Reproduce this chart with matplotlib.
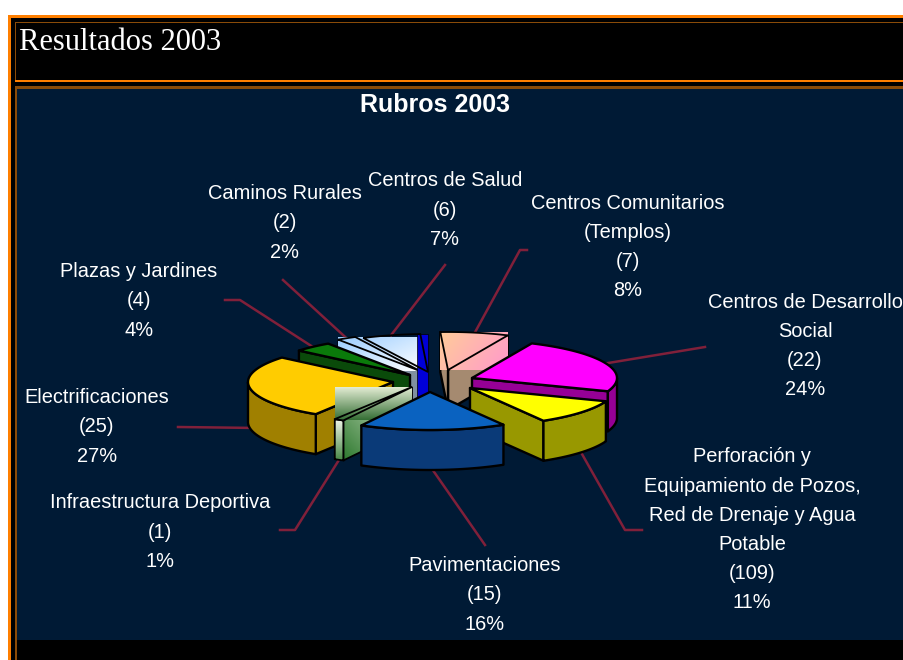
import numpy as np
import matplotlib
matplotlib.use('Agg')
import matplotlib.pyplot as plt
from matplotlib.colors import to_rgb
from matplotlib.patches import Polygon, Rectangle

# Chart data
labels = ['Electrificaciones\n(25)\n27%',
          'Infraestructura Deportiva\n(1)\n1%',
          'Pavimentaciones\n(15)\n16%',
          'Perforación y\nEquipamiento de Pozos,\nRed de Drenaje y Agua\nPotable\n(109)\n11%',
          'Centros de Desarrollo\nSocial\n(22)\n24%',
          'Centros Comunitarios\n(Templos)\n(7)\n8%',
          'Centros de Salud\n(6)\n7%',
          'Caminos Rurales\n(2)\n2%',
          'Plazas y Jardines\n(4)\n4%']
values = [25, 1, 15, 10, 22, 7, 6, 2, 4]

top_colors = ['#ffcc00', '#88b070', '#0a62c0', '#ffff00', '#ff00ff', '#ffc8a0', '#c8e0ff', '#a8d0ff', '#0a7a0a']
wall_colors = ['#a08000', '#6fa060', '#0a3a78', '#989800', '#960096', '#a58a70', '#0000d8', '#8090a0', '#0a4a0a']

# Layout, all in pixels of the original picture
apex_x = np.array([393, 412, 430, 470, 472, 448, 428, 420, 410])
apex_y = np.array([382, 387, 392, 388, 378, 370, 372, 371, 375])
label_pos = [(97, 427), (160, 532), (485, 595), (752, 530), (805, 346),
             (628, 247), (445, 210), (285, 223), (139, 301)]
leader_ends = [[(178, 427)],
               [(295, 530), (280, 530)],
               [(485, 545)],
               [(625, 530), (642, 530)],
               [(705, 347)],
               [(520, 250), (527, 250)],
               [(445, 265)],
               [(283, 280)],
               [(240, 300), (225, 300)]]
rx, ry, depth = 145, 38, 40
start_angle = 140
draw_order = [5, 7, 6, 8, 4, 0, 3, 1, 2]
line_color = '#80203a'

fig = plt.figure(figsize=(9.04, 6.6), dpi=100, facecolor='white')
ax = fig.add_axes([0, 0, 1, 1])
ax.set_xlim(0, 904)
ax.set_ylim(660, 0)
ax.axis('off')


def box(x0, y0, x1, y1, color, z=1):
    ax.add_patch(Rectangle((x0, y0), x1 - x0, y1 - y0, fc=color, ec='none', zorder=z))


# Page frame
box(8, 15, 904, 660, '#ff7f00')
box(11, 18, 904, 660, '#000000')
box(15, 22, 904, 82, '#8a4b08')
box(16, 23, 904, 80, '#000000')
box(15, 80, 904, 82, '#ff7f00')
box(15, 86, 904, 660, '#8a4b08')
box(17, 89, 904, 640, '#001a35')
box(17, 640, 904, 660, '#000000')

ax.text(19, 43, 'Resultados 2003', color='white', family='Liberation Serif',
        fontsize=22, va='center', ha='left', zorder=2)
ax.text(435, 105, 'Rubros 2003', color='white', family='Liberation Sans',
        fontsize=18, weight='bold', va='center', ha='center', zorder=2)

# Slice angles, counter clockwise from the start angle
shares = np.array(values) / sum(values) * 360
a0 = start_angle + np.concatenate(([0], np.cumsum(shares)[:-1]))
a1 = a0 + shares
mids = (a0 + a1) / 2

z = 3


def next_z():
    global z
    z += 1
    return z


def grad_fill(verts, c0, c1, direction=(0, 1)):
    # gradient image clipped to a polygon
    verts = np.array(verts)
    x0, y0 = verts.min(axis=0)
    x1, y1 = verts.max(axis=0)
    xx, yy = np.meshgrid(np.linspace(0, 1, 60), np.linspace(0, 1, 60))
    t = xx * direction[0] + yy * direction[1]
    t = (t - t.min()) / (t.max() - t.min())
    arr = np.array(to_rgb(c0)) * (1 - t[..., None]) + np.array(to_rgb(c1)) * t[..., None]
    im = ax.imshow(arr, extent=(x0, x1, y1, y0), aspect='auto', zorder=next_z(), interpolation='bilinear')
    im.set_clip_path(Polygon(verts, closed=True, transform=ax.transData))


def poly(verts, color, lw=1.7):
    ax.add_patch(Polygon(verts, closed=True, fc=color, ec='black', lw=lw, zorder=next_z(), joinstyle='round'))


def outline(verts, lw=1.3, color='black'):
    ax.add_patch(Polygon(verts, closed=True, fc='none', ec=color, lw=lw, zorder=next_z()))


def arc(i, lo, hi):
    t = np.radians(np.linspace(lo, hi, 50))
    return np.column_stack((apex_x[i] + rx * np.cos(t), apex_y[i] - ry * np.sin(t)))


def side(i, angle):
    p = arc(i, angle, angle)[0]
    ap = (apex_x[i], apex_y[i])
    return [ap, tuple(p), (p[0], p[1] + depth), (ap[0], ap[1] + depth)]


def front_wall(i):
    # outer wall only where the rim faces the viewer
    t = np.linspace(a0[i], a1[i], 120)
    t = t[np.sin(np.radians(t)) < 0]
    if len(t) < 2:
        return None
    rim = arc(i, t[0], t[-1])
    return np.vstack((rim, (rim + [0, depth])[::-1]))


def bbox_of(top):
    x0, y0 = top.min(axis=0)
    x1, y1 = top.max(axis=0)
    return [(x0, y0), (x1, y0), (x1, y1), (x0, y1)]


for i in draw_order:
    name = labels[i].split('\n')[0]
    top = np.vstack(([(apex_x[i], apex_y[i])], arc(i, a0[i], a1[i])))
    walls = []
    if np.sin(np.radians(a0[i] - 90)) < 0:
        walls.append(side(i, a0[i]))
    if np.sin(np.radians(a1[i] + 90)) < 0:
        walls.append(side(i, a1[i]))
    outer = front_wall(i)

    if name == 'Infraestructura Deportiva':
        for w in walls:
            grad_fill(w, '#e4eed8', '#2f7a30', direction=(-1, 1))
            outline(w)
        grad_fill(outer, '#f4f8ec', '#4a8a48', direction=(0, 1))
        outline(outer)
        grad_fill(bbox_of(top), '#e8f0d8', '#356f35')
        outline(top)
    elif name == 'Caminos Rurales':
        for w in walls:
            poly(w, wall_colors[i], lw=1)
        grad_fill(bbox_of(top), '#99ccff', '#ffffff', direction=(1, 1))
        outline(top)
    elif name == 'Centros de Salud':
        # blue sliver beside the apex, light face left open
        x1 = apex_x[i]
        y0 = apex_y[i] - ry
        y1 = apex_y[i] + depth
        poly([(x1 - 11, y0), (x1, y0), (x1, y1), (x1 - 11, y1)], wall_colors[i], lw=0.5)
        outline(top)
    elif name == 'Centros Comunitarios':
        for w in walls:
            poly(w, wall_colors[i])
        grad_fill(bbox_of(top), '#ffcc99', '#ff99cc', direction=(1, 0.4))
        outline(top)
    else:
        for w in walls:
            poly(w, wall_colors[i])
        if outer is not None:
            poly(outer, wall_colors[i])
        poly(top, top_colors[i])

ax.set_xlim(0, 904)
ax.set_ylim(660, 0)

# Leader lines and labels
for i in range(len(values)):
    m = np.radians(mids[i])
    sx = apex_x[i] + rx * np.cos(m)
    sy = apex_y[i] - ry * np.sin(m)
    if np.sin(m) < 0:
        sy += depth
    pts = [(sx, sy)] + leader_ends[i]
    ax.plot([p[0] for p in pts], [p[1] for p in pts], color=line_color, lw=1.8, zorder=2.5)
    ax.text(label_pos[i][0], label_pos[i][1], labels[i], color='white', family='Liberation Sans',
            fontsize=14.4, ha='center', va='center', ma='center', linespacing=1.68, zorder=100)

fig.savefig('out.png', dpi=100)
